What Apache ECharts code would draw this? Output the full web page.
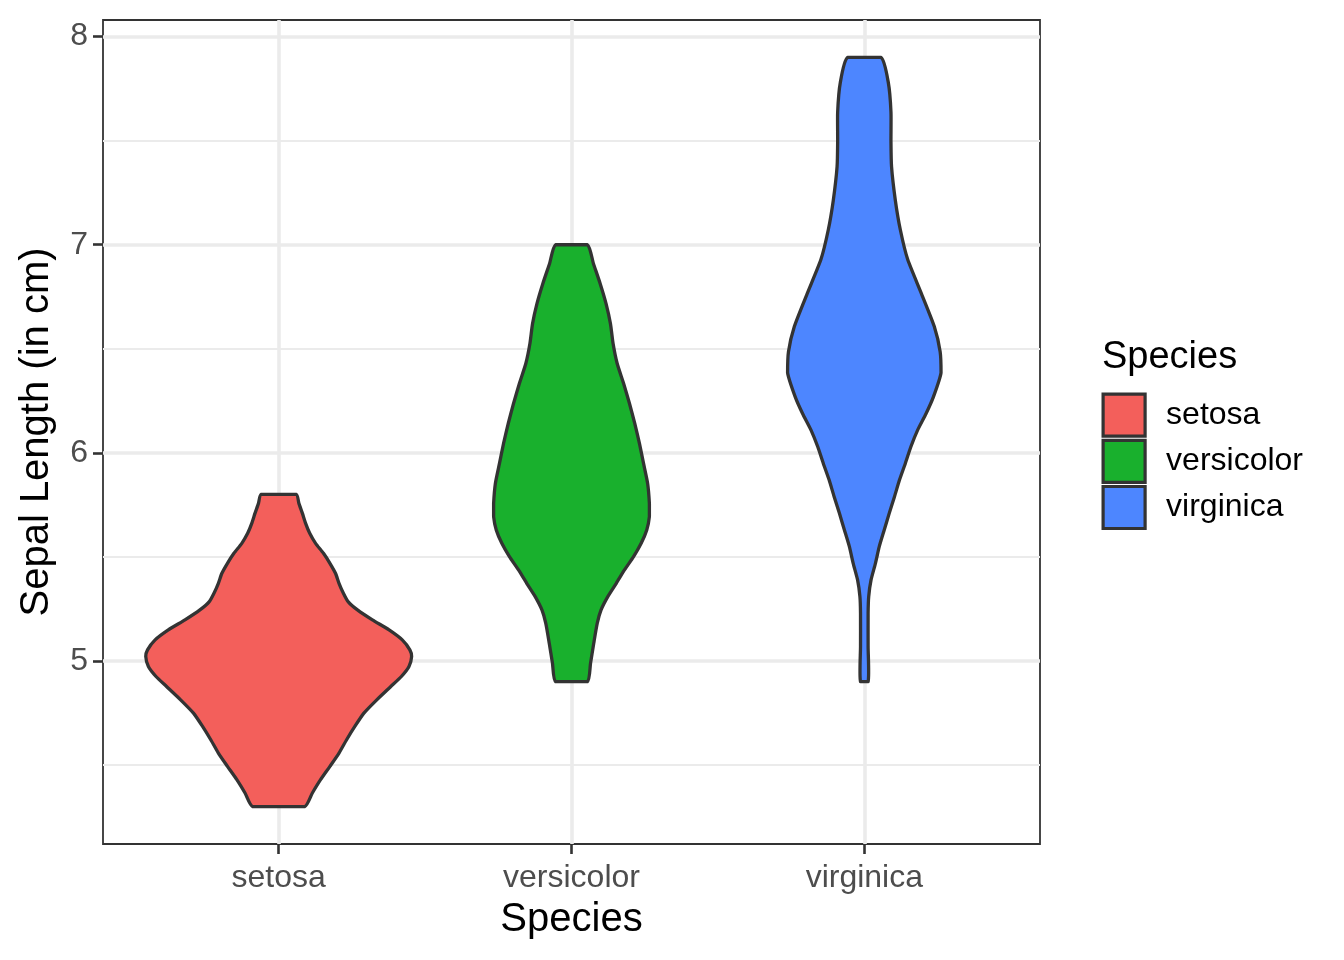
<!DOCTYPE html>
<html>
<head>
<meta charset="utf-8">
<script src="https://cdn.jsdelivr.net/npm/echarts@6/dist/echarts.min.js"></script>
<style>
  html, body { margin: 0; padding: 0; background: #fff; }
  #main { width: 1344px; height: 960px; }
</style>
</head>
<body>
<div id="main"></div>
<script>
// categories
var speciesNames = ['setosa', 'versicolor', 'virginica'];
var speciesPos = [1, 2, 3];

// violin outlines: sepal length (y) and half width (in category units)
var setosaY = [4.3, 4.365, 4.429, 4.493, 4.557, 4.621, 4.685, 4.749, 4.813, 4.877, 4.925, 4.973, 5.021, 5.053, 5.101, 5.149, 5.197, 5.245, 5.285, 5.325, 5.373, 5.421, 5.469, 5.517, 5.565, 5.613, 5.661, 5.709, 5.757, 5.8];
var setosaW = [0.089, 0.115, 0.143, 0.175, 0.206, 0.232, 0.260, 0.291, 0.335, 0.383, 0.419, 0.445, 0.454, 0.448, 0.422, 0.377, 0.320, 0.269, 0.237, 0.221, 0.206, 0.194, 0.175, 0.153, 0.126, 0.106, 0.092, 0.081, 0.069, 0.060];

var versicolorY = [4.9, 4.989, 5.085, 5.181, 5.245, 5.309, 5.373, 5.437, 5.501, 5.565, 5.629, 5.693, 5.757, 5.853, 5.949, 6.045, 6.141, 6.237, 6.333, 6.429, 6.525, 6.621, 6.717, 6.813, 6.909, 7.0];
var versicolorW = [0.054, 0.065, 0.076, 0.088, 0.101, 0.124, 0.153, 0.181, 0.212, 0.238, 0.257, 0.266, 0.266, 0.260, 0.246, 0.232, 0.216, 0.198, 0.178, 0.156, 0.142, 0.133, 0.118, 0.098, 0.075, 0.054];

var virginicaY = [4.9, 5.069, 5.229, 5.309, 5.389, 5.469, 5.549, 5.629, 5.709, 5.789, 5.869, 5.949, 6.029, 6.109, 6.189, 6.269, 6.385, 6.486, 6.607, 6.769, 6.930, 7.072, 7.213, 7.375, 7.496, 7.638, 7.779, 7.9];
var virginicaW = [0.013, 0.013, 0.013, 0.015, 0.023, 0.038, 0.051, 0.068, 0.085, 0.103, 0.120, 0.140, 0.159, 0.182, 0.211, 0.236, 0.262, 0.259, 0.239, 0.194, 0.148, 0.123, 0.106, 0.093, 0.091, 0.091, 0.082, 0.057];

// axis ticks
var yMajorTicks = [5, 6, 7, 8];
var yMinorTicks = [4.5, 5.5, 6.5, 7.5];

var speciesColors = ['#F35F5B', '#19B02D', '#4D86FF'];
var violins = [
  { y: setosaY, w: setosaW },
  { y: versicolorY, w: versicolorW },
  { y: virginicaY, w: virginicaW }
];

var font = '"Liberation Sans", Arial, Helvetica, sans-serif';
var chart = echarts.init(document.getElementById('main'));

function renderViolin(params, api) {
  var v = violins[params.seriesIndex];
  var c = speciesPos[params.seriesIndex];
  var pts = [];
  for (var i = 0; i < v.y.length; i++) {
    pts.push(api.coord([c + v.w[i], v.y[i]]));
  }
  for (var j = v.y.length - 1; j >= 0; j--) {
    pts.push(api.coord([c - v.w[j], v.y[j]]));
  }
  // keep the smoothed outline inside the points' box (flat ends stay flat)
  var lo = [Infinity, Infinity], hi = [-Infinity, -Infinity];
  pts.forEach(function (p) {
    lo[0] = Math.min(lo[0], p[0]); lo[1] = Math.min(lo[1], p[1]);
    hi[0] = Math.max(hi[0], p[0]); hi[1] = Math.max(hi[1], p[1]);
  });
  return {
    type: 'polygon',
    shape: { points: pts, smooth: 0.2, smoothConstraint: [lo, hi] },
    style: {
      fill: speciesColors[params.seriesIndex],
      stroke: '#333333',
      lineWidth: 3.3,
      lineJoin: 'round'
    }
  };
}

chart.setOption({
  animation: false,
  backgroundColor: '#fff',
  title: {
    text: 'Species',
    left: 1097,
    top: 334,
    textStyle: { fontFamily: font, fontSize: 38, fontWeight: 'normal', color: '#000' }
  },
  legend: {
    orient: 'vertical',
    left: 1101.5,
    top: 392.5,
    padding: 0,
    itemWidth: 42,
    itemHeight: 42,
    itemGap: 1,
    icon: 'rect',
    textStyle: { fontFamily: font, fontSize: 32, color: '#000', padding: [5, 0, 0, 16] },
    data: speciesNames.map(function (s, i) {
      return {
        name: s,
        itemStyle: { color: speciesColors[i], borderColor: '#333333', borderWidth: 3.2 }
      };
    })
  },
  grid: {
    left: 103,
    right: 304,
    top: 20,
    bottom: 116,
    containLabel: false,
    outerBoundsMode: 'none',
    show: true,
    backgroundColor: 'transparent',
    borderColor: '#333333',
    borderWidth: 1.8
  },
  xAxis: {
    type: 'value',
    min: 0.4,
    max: 3.6,
    name: 'Species',
    nameLocation: 'middle',
    nameGap: 56,
    nameTextStyle: { fontFamily: font, fontSize: 40, color: '#000' },
    axisLine: { show: false },
    axisTick: { show: true, customValues: speciesPos, length: 10, lineStyle: { color: '#333333', width: 2.6 } },
    axisLabel: {
      customValues: speciesPos,
      margin: 18,
      fontFamily: font,
      fontSize: 32,
      color: '#4D4D4D',
      formatter: function (v) { return speciesNames[Math.round(v) - 1]; }
    },
    splitLine: { show: true, lineStyle: { color: '#EBEBEB', width: 3.6 } }
  },
  yAxis: [{
    type: 'value',
    min: 4.12,
    max: 8.08,
    name: 'Sepal Length (in cm)',
    nameLocation: 'middle',
    nameGap: 46,
    nameTextStyle: { fontFamily: font, fontSize: 40, color: '#000' },
    axisLine: { show: false },
    axisTick: { show: true, customValues: yMajorTicks, length: 10, lineStyle: { color: '#333333', width: 2.6 } },
    axisLabel: {
      customValues: yMajorTicks,
      margin: 15,
      fontFamily: font,
      fontSize: 32,
      color: '#4D4D4D'
    },
    splitLine: { show: true, lineStyle: { color: '#EBEBEB', width: 3.6 } }
  }, {
    // minor grid lines
    type: 'value',
    min: 4.12,
    max: 8.08,
    position: 'left',
    axisLine: { show: false },
    axisTick: { show: false, customValues: yMinorTicks },
    axisLabel: { show: false, customValues: yMinorTicks },
    splitLine: { show: true, lineStyle: { color: '#EBEBEB', width: 1.8 } }
  }],
  series: speciesNames.map(function (s, i) {
    return {
      type: 'custom',
      name: s,
      xAxisIndex: 0,
      yAxisIndex: 0,
      itemStyle: { color: speciesColors[i] },
      data: [[speciesPos[i], 6]],
      renderItem: renderViolin
    };
  })
});
</script>
</body>
</html>
